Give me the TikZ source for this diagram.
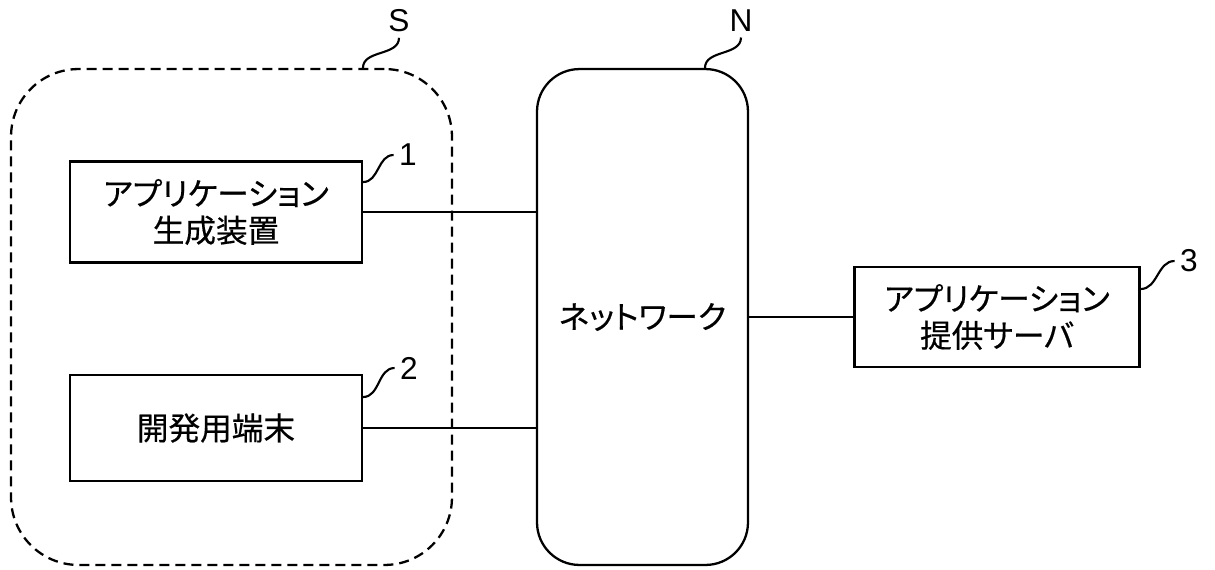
\documentclass[tikz,border=0pt]{standalone}
\usepackage{fontspec}
\setmainfont{Liberation Sans}
\newfontfamily\jp[FakeBold=0.5,RawFeature=+palt]{Noto Sans CJK JP}
\usetikzlibrary{positioning}

\begin{document}
\begin{tikzpicture}[x=0.02cm,y=-0.02cm,
    box/.style={draw,line width=1.3pt,minimum width=5.84cm,minimum height=2.02cm,
      align=center,font=\jp\fontsize{18}{21}\selectfont},
    refno/.style={font=\fontsize{18}{20}\selectfont,inner sep=3pt},
    lead/.style={line width=1.2pt},
    conn/.style={line width=1.3pt}]
    \useasboundingbox (0,0) rectangle (1215,569);
    % 点線の枠 S
    \node[draw,dash pattern=on 0.2cm off 0.12cm,line width=1.3pt,rounded corners=1.35cm,
      minimum width=8.82cm,minimum height=9.92cm] (grp) at (231.5,317) {};
    % ネットワーク N
    \node[draw,line width=1.3pt,rounded corners=0.85cm,minimum width=4.22cm,minimum height=9.92cm,
      font=\jp\fontsize{18}{21}\selectfont] (net) at (642.5,317) {ネットワーク};
    % 各装置
    \node[box] (app) at (216,212) {アプリケーション\\生成装置};
    \node[box,minimum height=2.12cm] (dev) at (216,428) {開発用端末};
    \node[box,minimum width=5.7cm,minimum height=2cm] (srv) at (997,317) {アプリケーション\\提供サーバ};
    % 接続線
    \draw[conn] (app.east) -- (app.east -| net.west);
    \draw[conn] (dev.east) -- (dev.east -| net.west);
    \draw[conn] (net.east |- srv.west) -- (srv.west);
    % 符号
    \node[refno] (lS) at (399,21) {S};
    \node[refno] (lN) at (741,21) {N};
    \node[refno] (l1) at (408,155) {1};
    \node[refno] (l2) at (409,368) {2};
    \node[refno] (l3) at (1189,261) {3};
    \draw[lead] ([xshift=2.63cm]grp.north) to[out=90,in=-90] (lS.south);
    \draw[lead] ([xshift=1.25cm]net.north) to[out=90,in=-90] (lN.south);
    \draw[lead] ([yshift=0.6cm]app.east) to[out=0,in=180] (l1.west);
    \draw[lead] ([yshift=0.62cm]dev.east) to[out=0,in=180] (l2.west);
    \draw[lead] ([yshift=0.56cm]srv.east) to[out=0,in=180] (l3.west);
\end{tikzpicture}
\end{document}
